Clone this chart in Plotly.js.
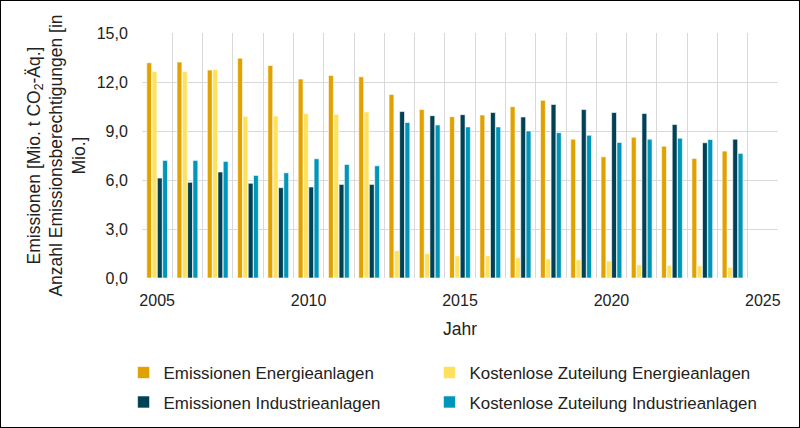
<!DOCTYPE html>
<html>
<head>
<meta charset="utf-8">
<script src="https://cdn.plot.ly/plotly-3.0.1.min.js"></script>
<style>
html,body{margin:0;padding:0;background:#fff;}
#frame{width:798px;height:426px;border:1px solid #000;}
#chart{width:798px;height:426px;}
</style>
</head>
<body>
<div id="frame"><div id="chart"></div></div>
<script>
const years = [2005,2006,2007,2008,2009,2010,2011,2012,2013,2014,2015,2016,2017,2018,2019,2020,2021,2022,2023,2024];
const emissionenEnergie = [13.18,13.22,12.73,13.46,13.01,12.18,12.40,12.32,11.24,10.31,9.88,9.98,10.49,10.88,8.50,7.42,8.62,8.07,7.32,7.77];
const zuteilungEnergie = [12.65,12.65,12.77,9.90,9.92,10.07,10.02,10.17,1.67,1.50,1.36,1.36,1.24,1.16,1.12,1.04,0.81,0.77,0.75,0.65];
const emissionenIndustrie = [6.12,5.86,6.49,5.80,5.53,5.57,5.73,5.73,10.19,9.94,10.00,10.13,9.86,10.63,10.31,10.13,10.07,9.40,8.28,8.50];
const zuteilungIndustrie = [7.20,7.20,7.14,6.28,6.44,7.30,6.95,6.87,9.52,9.37,9.25,9.25,9.00,8.90,8.74,8.30,8.50,8.56,8.48,7.63];
const seriesNames = ["Emissionen Energieanlagen","Kostenlose Zuteilung Energieanlagen","Emissionen Industrieanlagen","Kostenlose Zuteilung Industrieanlagen"];
const seriesColors = ["#E1A200","#FFE15C","#004155","#0096B9"];
const xTickVals = [2005,2010,2015,2020,2025];
const yTickVals = [0,3,6,9,12,15];
const cellBoundaries = [2004.5,2005.5,2006.5,2007.5,2008.5,2009.5,2010.5,2011.5,2012.5,2013.5,2014.5,2015.5,2016.5,2017.5,2018.5,2019.5,2020.5,2021.5,2022.5,2023.5,2024.5,2025.5];

const font = "Liberation Sans, Arial, sans-serif";
const allSeries = [emissionenEnergie, zuteilungEnergie, emissionenIndustrie, zuteilungIndustrie];
const legendIds = ["legend","legend2","legend3","legend4"];
const traces = allSeries.map((vals,i)=>({
  type:"bar",
  x: years,
  y: vals,
  name: seriesNames[i],
  legend: legendIds[i],
  marker:{color:seriesColors[i], line:{color:"#ffffff", width:0.6}},
  hoverinfo:"x+y+name"
}));

function mkLegend(x, y){
  return {
    x:x, y:y,
    orientation:"h",
    font:{family:font,size:16.9,color:"#222"},
    xanchor:"left", yanchor:"middle",
    bgcolor:"rgba(0,0,0,0)"
  };
}
const col1 = -0.029, col2 = 0.452, row1 = -0.386, row2 = -0.506;

const layout = {
  width:798, height:426,
  margin:{l:141,r:21,t:32,b:149,autoexpand:false},
  paper_bgcolor:"#ffffff",
  plot_bgcolor:"#ffffff",
  separators:",.",
  font:{family:font,size:16,color:"#222"},
  barmode:"group",
  bargap:0.3,
  bargroupgap:0.08,
  showlegend:true,
  legend:mkLegend(col1,row1),
  legend2:mkLegend(col2,row1),
  legend3:mkLegend(col1,row2),
  legend4:mkLegend(col2,row2),
  xaxis:{
    range:[2004.5,2025.5],
    tickmode:"array",
    tickvals:xTickVals,
    ticktext:xTickVals.map(String),
    showgrid:false,
    zeroline:false,
    showline:false,
    ticks:"outside", ticklen:8, tickcolor:"rgba(0,0,0,0)",
    tickfont:{family:font,size:16,color:"#222"},
    minor:{tickmode:"array",tickvals:cellBoundaries,showgrid:true,gridcolor:"#D9D9D9",gridwidth:1,ticks:""},
    title:{text:"Jahr",font:{family:font,size:17.5,color:"#222"},standoff:14},
    fixedrange:true
  },
  yaxis:{
    range:[0,15],
    tickmode:"array",
    tickvals:yTickVals,
    tickformat:".1f",
    showgrid:true,
    gridcolor:"#D9D9D9",
    gridwidth:1,
    zeroline:false,
    showline:false,
    ticks:"outside", ticklen:10, tickcolor:"rgba(0,0,0,0)",
    tickfont:{family:font,size:16,color:"#222"},
    title:{text:"Emissionen [Mio. t CO<sub>2</sub>-Äq.]<br>Anzahl Emissionsberechtigungen [in<br>Mio.]",font:{family:font,size:17.5,color:"#222"},standoff:6},
    fixedrange:true
  }
};

Plotly.newPlot("chart", traces, layout, {displayModeBar:false, staticPlot:true});
</script>
</body>
</html>
